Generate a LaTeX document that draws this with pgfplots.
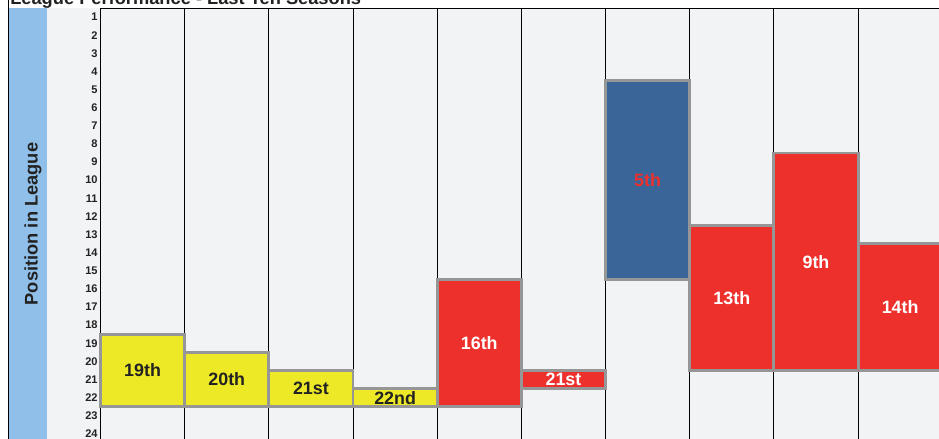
\documentclass[border=0pt]{standalone}
\usepackage{pgfplots}
\pgfplotsset{compat=1.18}
\usepackage{fontspec}
\setmainfont{Liberation Sans}
\definecolor{bgc}{HTML}{F2F3F5}
\definecolor{band}{HTML}{90C0EA}
\definecolor{ylw}{HTML}{EEE927}
\definecolor{rd}{HTML}{EE302C}
\definecolor{blu}{HTML}{3A6598}
\definecolor{edge}{HTML}{969696}
\definecolor{txt}{HTML}{222222}
\begin{document}
\begin{tikzpicture}[x=0.75pt,y=0.75pt]
\useasboundingbox (0,0) rectangle (939,439);
\clip (0,0) rectangle (939,439);
\fill[white] (0,0) rectangle (939,439);
\fill[bgc] (47,0) rectangle (939,431);
\fill[band] (8,0) rectangle (47,431);
\draw[black, line width=0.75pt] (8,-5) -- (8,445);
\node[anchor=base west, inner sep=0pt, text=txt, font=\bfseries\fontsize{13.7}{16}\selectfont] at (10,434.5) {League Performance - Last Ten Seasons};
\node[rotate=90, inner sep=0pt, text=txt, font=\bfseries\fontsize{13.7}{16}\selectfont] at (33,215) {Position in League};
\begin{axis}[
  at={(75.375pt,323.25pt)}, anchor=north west,
  scale only axis, width=628.9pt, height=323.25pt,
  xmin=0, xmax=9.962, ymin=0.5, ymax=24.28,
  y dir=reverse, clip=false,
  axis line style={draw=none},
  xtick={0,...,9}, xticklabels={},
  xmajorgrids, grid style={black, line width=0.75pt},
  ytick={1,...,24}, major tick length=0,
  /pgf/number format/assume math mode=true,
  yticklabel style={font=\bfseries\fontsize{8.3}{9}\selectfont, text=txt, anchor=east, inner sep=0pt, xshift=-2pt},
]
% bars: (x0,top) (x1,top) (x1,bottom) (x0,bottom)
\addplot[fill=ylw, draw=edge, line width=2.2pt] coordinates {(0,18.5) (1,18.5) (1,22.5) (0,22.5)} -- cycle;
\addplot[fill=ylw, draw=edge, line width=2.2pt] coordinates {(1,19.5) (2,19.5) (2,22.5) (1,22.5)} -- cycle;
\addplot[fill=ylw, draw=edge, line width=2.2pt] coordinates {(2,20.5) (3,20.5) (3,22.5) (2,22.5)} -- cycle;
\addplot[fill=ylw, draw=edge, line width=2.2pt] coordinates {(3,21.5) (4,21.5) (4,22.5) (3,22.5)} -- cycle;
\addplot[fill=rd, draw=edge, line width=2.2pt] coordinates {(4,15.5) (5,15.5) (5,22.5) (4,22.5)} -- cycle;
\addplot[fill=rd, draw=edge, line width=2.2pt] coordinates {(5,20.5) (6,20.5) (6,21.5) (5,21.5)} -- cycle;
\addplot[fill=blu, draw=edge, line width=2.2pt] coordinates {(6,4.5) (7,4.5) (7,15.5) (6,15.5)} -- cycle;
\addplot[fill=rd, draw=edge, line width=2.2pt] coordinates {(7,12.5) (8,12.5) (8,20.5) (7,20.5)} -- cycle;
\addplot[fill=rd, draw=edge, line width=2.2pt] coordinates {(8,8.5) (9,8.5) (9,20.5) (8,20.5)} -- cycle;
\addplot[fill=rd, draw=edge, line width=2.2pt] coordinates {(9,13.5) (10,13.5) (10,20.5) (9,20.5)} -- cycle;
% labels
\begin{scope}[every node/.style={font=\bfseries\fontsize{13.4}{15}\selectfont, inner sep=0pt}]
\node[text=txt] at (axis cs:0.5,20.5) {19th};
\node[text=txt] at (axis cs:1.5,21) {20th};
\node[text=txt] at (axis cs:2.5,21.5) {21st};
\node[text=txt] at (axis cs:3.5,22) {22nd};
\node[text=white] at (axis cs:4.5,19) {16th};
\node[text=white] at (axis cs:5.5,21) {21st};
\node[text=rd] at (axis cs:6.5,10) {5th};
\node[text=white] at (axis cs:7.5,16.5) {13th};
\node[text=white] at (axis cs:8.5,14.5) {9th};
\node[text=white] at (axis cs:9.5,17) {14th};
\end{scope}
\draw[black, line width=0.75pt] (axis cs:0,0.5) -- (axis cs:10.2,0.5);
\end{axis}
\end{tikzpicture}
\end{document}
